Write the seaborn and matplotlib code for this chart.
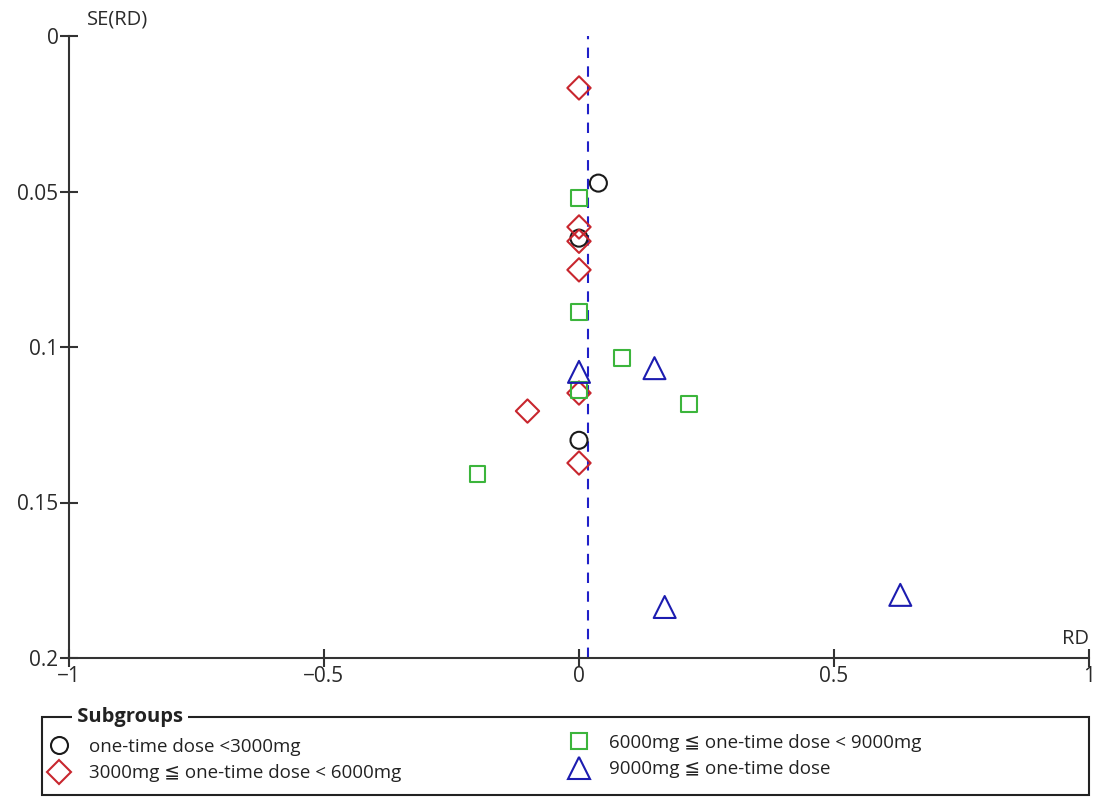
import matplotlib
matplotlib.use("Agg")
import matplotlib.pyplot as plt
from matplotlib.lines import Line2D
from matplotlib.patches import Rectangle
import seaborn as sns
import pandas as pd

sns.set_theme(style="white")
plt.rcParams['font.family'] = ['Open Sans', 'DejaVu Sans']

# Study estimates per subgroup: risk difference (RD) and its standard error
rd_low = [0.038, 0.0, 0.0]
se_low = [0.0473, 0.065, 0.130]

rd_mid = [0.0, 0.0, 0.0, 0.0, 0.0, -0.101, 0.0]
se_mid = [0.0167, 0.0614, 0.066, 0.0752, 0.1148, 0.1206, 0.1373]

rd_high = [0.0, 0.0, 0.085, 0.0, 0.215, -0.199]
se_high = [0.0521, 0.0887, 0.1035, 0.1138, 0.1183, 0.1408]

rd_top = [0.0, 0.148, 0.168, 0.630]
se_top = [0.108, 0.1068, 0.1836, 0.1797]

pooled_rd = 0.018

labels = ["one-time dose <3000mg",
          "3000mg \u2266 one-time dose < 6000mg",
          "6000mg \u2266 one-time dose < 9000mg",
          "9000mg \u2266 one-time dose"]
colors = ["#1a1a1a", "#c8262e", "#3cb53c", "#1c1cb0"]
markers = ["o", "D", "s", "^"]
sizes = [150, 141, 132, 250]

groups = [(rd_low, se_low), (rd_mid, se_mid), (rd_high, se_high), (rd_top, se_top)]

W, H = 1099, 798
fig = plt.figure(figsize=(W / 100, H / 100), dpi=100)
ax = fig.add_axes([69 / W, 1 - 658 / H, 1020 / W, 622 / H])

ax.axvline(pooled_rd, color="#2020c8", lw=1.5, ls=(0, (5, 4)), zorder=1)

for (rd, se), lab, c, m, s in zip(groups, labels, colors, markers, sizes):
    df = pd.DataFrame({"RD": rd, "SE": se})
    sns.scatterplot(data=df, x="RD", y="SE", ax=ax, marker=m, s=s,
                    facecolors="none", edgecolor=c, linewidth=1.5, zorder=3)

ax.set_xlim(-1, 1)
ax.set_ylim(0.2, 0)
ax.set_xticks([-1, -0.5, 0, 0.5, 1])
ax.set_xticklabels(["\u22121", "\u22120.5", "0", "0.5", "1"])
ax.set_yticks([0, 0.05, 0.1, 0.15, 0.2])
ax.set_yticklabels(["0", "0.05", "0.1", "0.15", "0.2"])
ax.set_xlabel("")
ax.set_ylabel("")

for side in ["top", "right"]:
    ax.spines[side].set_visible(False)
for side in ["left", "bottom"]:
    ax.spines[side].set_color("#333333")
    ax.spines[side].set_linewidth(1.5)
ax.tick_params(axis="both", bottom=True, left=True, direction="inout",
               length=13, width=1.5, color="#333333", labelsize=15,
               labelcolor="#2a2a2a")
ax.tick_params(axis="y", pad=1)
ax.tick_params(axis="x", pad=-1)

ax.text(18 / 1020, 1.01, "SE(RD)", transform=ax.transAxes, fontsize=14.5,
        color="#2a2a2a", ha="left", va="bottom")
ax.text(1.0, 0.015, "RD", transform=ax.transAxes, fontsize=14.5,
        color="#2a2a2a", ha="right", va="bottom")

# Subgroup key in a framed box with its title sitting on the top border
fig.patches.append(Rectangle((42 / W, 1 - 795 / H), 1047 / W, 78 / H,
                             transform=fig.transFigure, fill=False,
                             edgecolor="#222222", lw=1.5))
fig.text(72 / W, 1 - 717 / H, " Subgroups ", fontsize=14.5, fontweight="bold",
         ha="left", va="center", color="#222222",
         bbox=dict(facecolor="white", edgecolor="none", pad=0))

handles = [Line2D([], [], ls="none", marker=m, markersize=(s ** 0.5),
                  markerfacecolor="none", markeredgecolor=c, markeredgewidth=1.5)
           for m, c, s in zip(markers, colors, sizes)]
legend_kw = dict(loc="upper left", frameon=False, fontsize=13.5,
                 handletextpad=0.95, labelspacing=0.45, handlelength=1.3,
                 borderpad=0.0, borderaxespad=0.0, labelcolor="#222222")
fig.legend(handles[:2], labels[:2], bbox_to_anchor=(47 / W, 1 - 738 / H), **legend_kw)
fig.legend(handles[2:], labels[2:], bbox_to_anchor=(567 / W, 1 - 734 / H), **legend_kw)

fig.savefig("out.png", dpi=100)
